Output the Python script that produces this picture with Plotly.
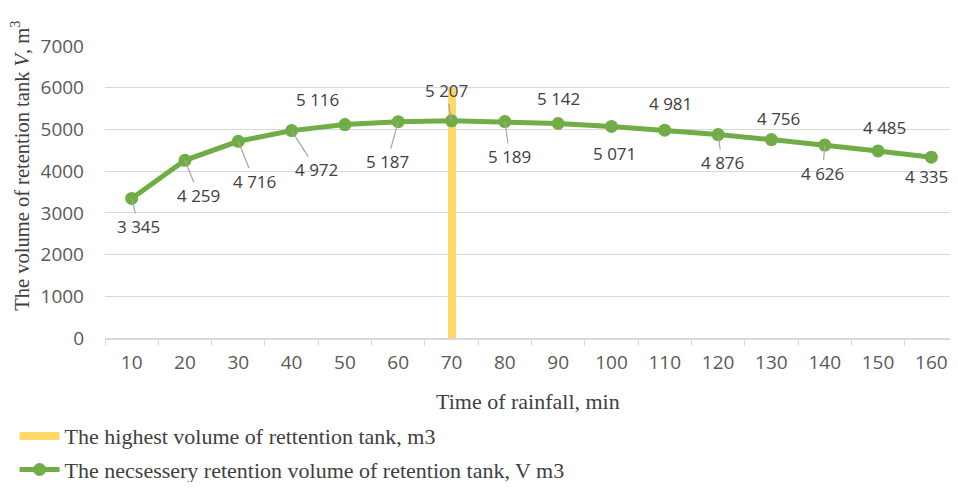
import plotly.graph_objects as go

# ---- data ----
times = ["10", "20", "30", "40", "50", "60", "70", "80", "90", "100",
         "110", "120", "130", "140", "150", "160"]
necessary_volume = [3345, 4259, 4716, 4972, 5116, 5187, 5207, 5189, 5142, 5071,
                    4981, 4876, 4756, 4626, 4485, 4335]
highest_time = ["70"]
highest_volume = [6000]
y_ticks = [0, 1000, 2000, 3000, 4000, 5000, 6000, 7000]

# ---- label placement (pixel offsets from each point) ----
label_offsets = [(7, 28), (14, 35), (16, 40), (25, 39), (-27, -25), (-11, 40),
                 (-5, -30), (5, 35), (0, -25), (3, 27), (6, -27), (4, 28),
                 (7, -21), (-2, 28), (6, -23), (-5, 19)]
leader = [True, True, True, True, False, True, True, True, False, False,
          False, True, False, True, False, False]

GREEN = "#70AD47"
GOLD = "#FFD966"
SERIF = "Liberation Serif"
SANS = "Open Sans"

fig = go.Figure()
fig.add_trace(go.Bar(
    x=highest_time, y=highest_volume, width=0.15,
    marker=dict(color=GOLD, line=dict(width=0)),
    name="The highest volume of rettention tank, m3",
    showlegend=False, legendgroup="a"))
# legend-only entry imitating the wide bar legend key
fig.add_trace(go.Scatter(
    x=[None], y=[None], mode="lines", line=dict(color=GOLD, width=8),
    name="The highest volume of rettention tank, m3", legendgroup="a"))
fig.add_trace(go.Scatter(
    x=times, y=necessary_volume, mode="lines+markers",
    line=dict(color=GREEN, width=5),
    marker=dict(color=GREEN, size=13),
    name="The necsessery retention volume of retention tank, V m3",
    legendgroup="b"))

def fmt(v):
    return f"{v:,}".replace(",", " ")

for i, (v, (dx, dy), ld) in enumerate(zip(necessary_volume, label_offsets, leader)):
    if ld:
        fig.add_annotation(x=i, y=v, text=fmt(v), showarrow=True,
                           ax=dx, ay=dy, arrowhead=0, arrowwidth=1.2,
                           arrowcolor="#A6A6A6", standoff=0, startstandoff=0,
                           font=dict(family=SANS, size=17, color="#404040"))
    else:
        fig.add_annotation(x=i, y=v, text=fmt(v), showarrow=False,
                           xshift=dx, yshift=-dy,
                           font=dict(family=SANS, size=17, color="#404040"))

# axis titles
fig.add_annotation(xref="paper", yref="paper", x=0.5, y=-0.216,
                   xanchor="center", yanchor="middle",
                   text="Time of rainfall, min", showarrow=False,
                   font=dict(family=SERIF, size=22, color="#404040"))
fig.add_annotation(xref="paper", yref="paper", x=-0.1006, y=0.59,
                   xanchor="center", yanchor="middle",
                   text="The volume of retention tank <i>V</i>, m<sup>3</sup>",
                   textangle=-90, showarrow=False,
                   font=dict(family=SERIF, size=20.5, color="#404040"))

fig.update_layout(
    width=942, height=474,
    margin=dict(l=97, r=0, t=38, b=144, autoexpand=False),
    plot_bgcolor="white", paper_bgcolor="white",
    bargap=0,
    legend=dict(x=-0.107, y=-0.264, xanchor="left", yanchor="top",
                orientation="v", tracegroupgap=2, itemwidth=40,
                font=dict(family=SERIF, size=22, color="#404040")),
    xaxis=dict(type="category", categoryorder="array", categoryarray=times,
               range=[-0.5, 15.35], tickson="boundaries", ticks="outside",
               ticklen=6, tickcolor="#D9D9D9", showline=True,
               linecolor="#D9D9D9", linewidth=1.5, showgrid=False,
               tickfont=dict(family=SANS, size=19, color="#595959"),
               ticklabelstandoff=6, automargin=False),
    yaxis=dict(range=[0, 7000], tickvals=y_ticks, showgrid=True,
               gridcolor="#D9D9D9", gridwidth=1.2, zeroline=False,
               showline=False, ticks="",
               tickfont=dict(family=SANS, size=19, color="#595959"),
               ticklabelstandoff=20, automargin=False),
)

fig.write_html("out.html")
